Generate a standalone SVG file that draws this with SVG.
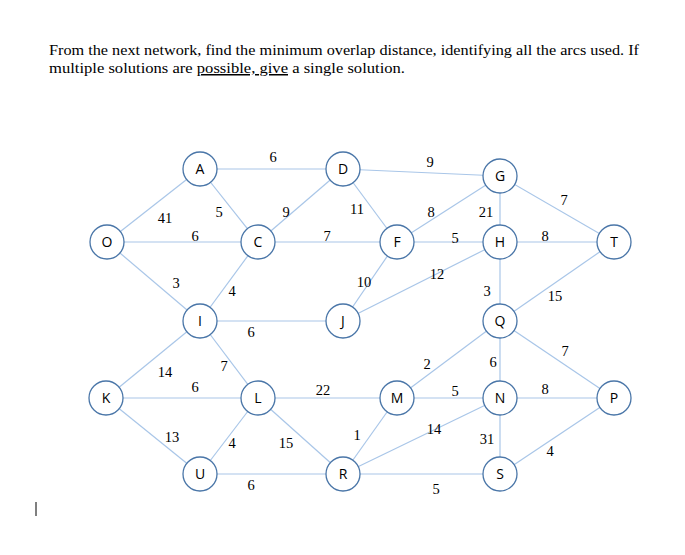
<svg xmlns="http://www.w3.org/2000/svg" width="685" height="555" viewBox="0 0 685 555">
<style>
.e{stroke:#a9c6e8;stroke-width:1.2;fill:none}
.n circle{fill:#fff;stroke:#4a76a8;stroke-width:1.3}
.n text{font-family:"Open Sans","Liberation Sans",sans-serif;font-size:14px;text-anchor:middle;fill:#000}
.w{font-family:"Liberation Serif",serif;font-size:14.5px;text-anchor:middle;fill:#000}
.t{font-family:"Liberation Serif",serif;font-size:15px;fill:#000}
</style>
<rect width="685" height="555" fill="#fff"/>
<text class="t" x="49" y="55" textLength="590" lengthAdjust="spacingAndGlyphs">From the next network,  find the minimum overlap distance, identifying all the arcs used. If</text>
<text class="t" x="49" y="73" textLength="356" lengthAdjust="spacingAndGlyphs">multiple solutions are <tspan text-decoration="underline">possible,  give</tspan>  a  single solution.</text>
<line x1="36" y1="502" x2="36" y2="516" stroke="#000"/>
<g id="edges">
<line class="e" x1="107" y1="242" x2="200" y2="169"/>
<line class="e" x1="107" y1="242" x2="258" y2="242"/>
<line class="e" x1="107" y1="242" x2="200" y2="321"/>
<line class="e" x1="200" y1="169" x2="343" y2="169"/>
<line class="e" x1="200" y1="169" x2="258" y2="242"/>
<line class="e" x1="258" y1="242" x2="343" y2="169"/>
<line class="e" x1="258" y1="242" x2="397" y2="242"/>
<line class="e" x1="200" y1="321" x2="258" y2="242"/>
<line class="e" x1="200" y1="321" x2="343" y2="321"/>
<line class="e" x1="343" y1="169" x2="500" y2="176"/>
<line class="e" x1="343" y1="169" x2="397" y2="242"/>
<line class="e" x1="343" y1="321" x2="397" y2="242"/>
<line class="e" x1="343" y1="321" x2="500" y2="242"/>
<line class="e" x1="397" y1="242" x2="500" y2="176"/>
<line class="e" x1="397" y1="242" x2="500" y2="242"/>
<line class="e" x1="500" y1="176" x2="500" y2="242"/>
<line class="e" x1="500" y1="176" x2="614" y2="242"/>
<line class="e" x1="500" y1="242" x2="614" y2="242"/>
<line class="e" x1="500" y1="242" x2="500" y2="321"/>
<line class="e" x1="500" y1="321" x2="614" y2="242"/>
<line class="e" x1="500" y1="321" x2="614" y2="398"/>
<line class="e" x1="500" y1="321" x2="500" y2="398"/>
<line class="e" x1="500" y1="321" x2="397" y2="398"/>
<line class="e" x1="106" y1="398" x2="200" y2="321"/>
<line class="e" x1="106" y1="398" x2="258" y2="398"/>
<line class="e" x1="106" y1="398" x2="200" y2="474"/>
<line class="e" x1="200" y1="321" x2="258" y2="398"/>
<line class="e" x1="258" y1="398" x2="397" y2="398"/>
<line class="e" x1="258" y1="398" x2="200" y2="474"/>
<line class="e" x1="258" y1="398" x2="343" y2="474"/>
<line class="e" x1="397" y1="398" x2="500" y2="398"/>
<line class="e" x1="397" y1="398" x2="343" y2="474"/>
<line class="e" x1="500" y1="398" x2="614" y2="398"/>
<line class="e" x1="500" y1="398" x2="343" y2="474"/>
<line class="e" x1="500" y1="398" x2="500" y2="474"/>
<line class="e" x1="200" y1="474" x2="343" y2="474"/>
<line class="e" x1="343" y1="474" x2="500" y2="474"/>
<line class="e" x1="500" y1="474" x2="614" y2="398"/>
</g>
<g id="weights">
<text class="w" x="273" y="162">6</text><text class="w" x="165" y="223">41</text><text class="w" x="219" y="217">5</text>
<text class="w" x="195" y="241">6</text><text class="w" x="286" y="217">9</text><text class="w" x="327" y="241">7</text>
<text class="w" x="357" y="214">11</text><text class="w" x="430" y="167">9</text><text class="w" x="431" y="217">8</text>
<text class="w" x="486" y="217">21</text><text class="w" x="455" y="243">5</text><text class="w" x="545" y="241">8</text>
<text class="w" x="564" y="205">7</text><text class="w" x="176" y="288">3</text><text class="w" x="232" y="296">4</text>
<text class="w" x="364" y="287">10</text><text class="w" x="437" y="279">12</text><text class="w" x="487" y="296">3</text>
<text class="w" x="555" y="301">15</text><text class="w" x="251" y="337">6</text><text class="w" x="165" y="377">14</text>
<text class="w" x="224" y="371">7</text><text class="w" x="427" y="369">2</text><text class="w" x="493" y="367">6</text>
<text class="w" x="565" y="356">7</text><text class="w" x="195" y="392">6</text><text class="w" x="323" y="395">22</text>
<text class="w" x="455" y="396">5</text><text class="w" x="545" y="394">8</text><text class="w" x="172" y="442">13</text>
<text class="w" x="232" y="448">4</text><text class="w" x="286" y="448">15</text><text class="w" x="357" y="440">1</text>
<text class="w" x="434" y="434">14</text><text class="w" x="487" y="444">31</text><text class="w" x="550" y="456">4</text>
<text class="w" x="251" y="490">6</text><text class="w" x="436" y="494">5</text>
</g>
<g id="O" class="n"><circle cx="107" cy="242" r="17"/><text x="107" y="247">O</text></g>
<g id="A" class="n"><circle cx="200" cy="169" r="17"/><text x="200" y="174">A</text></g>
<g id="C" class="n"><circle cx="258" cy="242" r="17"/><text x="258" y="247">C</text></g>
<g id="D" class="n"><circle cx="343" cy="169" r="17"/><text x="343" y="174">D</text></g>
<g id="G" class="n"><circle cx="500" cy="176" r="17"/><text x="500" y="181">G</text></g>
<g id="F" class="n"><circle cx="397" cy="242" r="17"/><text x="397" y="247">F</text></g>
<g id="H" class="n"><circle cx="500" cy="242" r="17"/><text x="500" y="247">H</text></g>
<g id="T" class="n"><circle cx="614" cy="242" r="17"/><text x="614" y="247">T</text></g>
<g id="I" class="n"><circle cx="200" cy="321" r="17"/><text x="200" y="326">I</text></g>
<g id="J" class="n"><circle cx="343" cy="321" r="17"/><text x="343" y="326">J</text></g>
<g id="Q" class="n"><circle cx="500" cy="321" r="17"/><text x="500" y="326">Q</text></g>
<g id="K" class="n"><circle cx="106" cy="398" r="17"/><text x="106" y="403">K</text></g>
<g id="L" class="n"><circle cx="258" cy="398" r="17"/><text x="258" y="403">L</text></g>
<g id="M" class="n"><circle cx="397" cy="398" r="17"/><text x="397" y="403">M</text></g>
<g id="N" class="n"><circle cx="500" cy="398" r="17"/><text x="500" y="403">N</text></g>
<g id="P" class="n"><circle cx="614" cy="398" r="17"/><text x="614" y="403">P</text></g>
<g id="U" class="n"><circle cx="200" cy="474" r="17"/><text x="200" y="479">U</text></g>
<g id="R" class="n"><circle cx="343" cy="474" r="17"/><text x="343" y="479">R</text></g>
<g id="S" class="n"><circle cx="500" cy="474" r="17"/><text x="500" y="479">S</text></g>
</svg>
